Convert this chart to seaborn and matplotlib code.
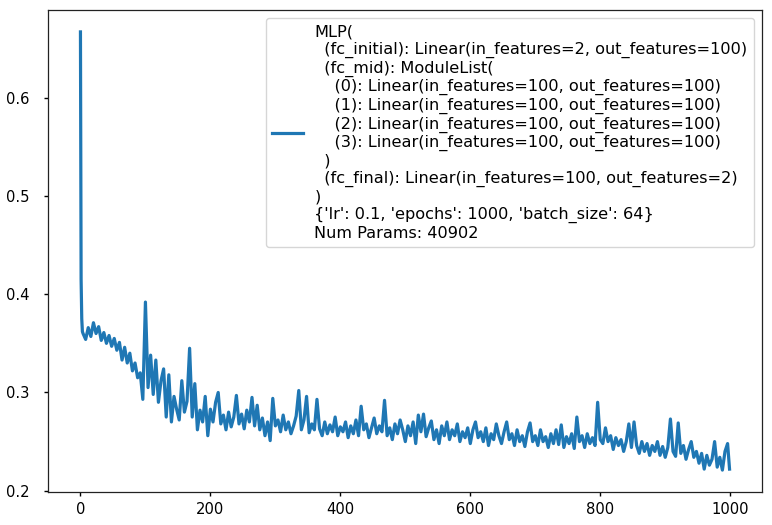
import numpy as np
import pandas as pd
import matplotlib
matplotlib.use("Agg")
import matplotlib.pyplot as plt
import seaborn as sns

# ---- data ----
epochs = [0, 1, 2, 3] + list(range(4, 1000, 4)) + [999]

loss_head = [0.667, 0.415, 0.375, 0.362]
loss_body = [
    # 4-40
    0.360, 0.354, 0.366, 0.357, 0.371, 0.360, 0.367, 0.353, 0.361, 0.350,
    # 44-80
    0.358, 0.347, 0.355, 0.343, 0.351, 0.333, 0.346, 0.330, 0.340, 0.322,
    # 84-120
    0.330, 0.315, 0.320, 0.293, 0.392, 0.305, 0.338, 0.298, 0.333, 0.290,
    # 124-160
    0.312, 0.324, 0.275, 0.318, 0.270, 0.296, 0.283, 0.272, 0.312, 0.280,
    # 164-200
    0.291, 0.345, 0.275, 0.309, 0.262, 0.282, 0.270, 0.296, 0.256, 0.283,
    # 204-240
    0.270, 0.290, 0.300, 0.268, 0.277, 0.262, 0.280, 0.265, 0.275, 0.297,
    # 244-280
    0.268, 0.278, 0.263, 0.282, 0.270, 0.295, 0.266, 0.287, 0.262, 0.274,
    # 284-320
    0.256, 0.270, 0.251, 0.294, 0.266, 0.272, 0.260, 0.277, 0.262, 0.270,
    # 324-360
    0.258, 0.266, 0.276, 0.302, 0.262, 0.272, 0.296, 0.259, 0.268, 0.262,
    # 364-400
    0.293, 0.263, 0.256, 0.270, 0.258, 0.267, 0.260, 0.275, 0.256, 0.265,
    # 404-440
    0.260, 0.270, 0.254, 0.266, 0.258, 0.272, 0.256, 0.286, 0.262, 0.268,
    # 444-480
    0.254, 0.264, 0.274, 0.258, 0.266, 0.260, 0.292, 0.256, 0.264, 0.252,
    # 484-520
    0.268, 0.258, 0.272, 0.262, 0.250, 0.266, 0.256, 0.270, 0.248, 0.277,
    # 524-560
    0.260, 0.278, 0.255, 0.264, 0.271, 0.252, 0.262, 0.248, 0.266, 0.256,
    # 564-600
    0.270, 0.252, 0.262, 0.256, 0.268, 0.250, 0.260, 0.254, 0.264, 0.248,
    # 604-640
    0.262, 0.270, 0.254, 0.260, 0.250, 0.264, 0.246, 0.258, 0.252, 0.268,
    # 644-680
    0.256, 0.248, 0.260, 0.270, 0.252, 0.258, 0.246, 0.262, 0.250, 0.256,
    # 684-720
    0.245, 0.260, 0.269, 0.250, 0.256, 0.246, 0.262, 0.250, 0.255, 0.244,
    # 724-760
    0.258, 0.248, 0.262, 0.247, 0.267, 0.244, 0.255, 0.248, 0.258, 0.243,
    # 764-800
    0.275, 0.250, 0.256, 0.244, 0.258, 0.248, 0.254, 0.246, 0.290, 0.252,
    # 804-840
    0.248, 0.264, 0.250, 0.256, 0.242, 0.254, 0.246, 0.252, 0.240, 0.250,
    # 844-880
    0.268, 0.244, 0.270, 0.246, 0.238, 0.250, 0.240, 0.248, 0.236, 0.246,
    # 884-920
    0.240, 0.250, 0.236, 0.245, 0.234, 0.244, 0.273, 0.240, 0.235, 0.269,
    # 924-960
    0.238, 0.246, 0.232, 0.242, 0.250, 0.234, 0.240, 0.228, 0.238, 0.222,
    # 964-996
    0.236, 0.226, 0.232, 0.250, 0.224, 0.234, 0.221, 0.240, 0.248,
    # 999
    0.222,
]
loss = loss_head + loss_body

x_ticks = [0, 200, 400, 600, 800, 1000]
y_ticks = [0.2, 0.3, 0.4, 0.5, 0.6]
y_tick_labels = ["0.2", "0.3", "0.4", "0.5", "0.6"]

legend_label = (
    "MLP(\n"
    "  (fc_initial): Linear(in_features=2, out_features=100)\n"
    "  (fc_mid): ModuleList(\n"
    "    (0): Linear(in_features=100, out_features=100)\n"
    "    (1): Linear(in_features=100, out_features=100)\n"
    "    (2): Linear(in_features=100, out_features=100)\n"
    "    (3): Linear(in_features=100, out_features=100)\n"
    "  )\n"
    "  (fc_final): Linear(in_features=100, out_features=2)\n"
    ")\n"
    "{'lr': 0.1, 'epochs': 1000, 'batch_size': 64}\n"
    "Num Params: 40902"
)

df = pd.DataFrame({"epoch": epochs[:len(loss)], "loss": loss})

plt.rcParams.update({
    "font.family": ["DejaVu Sans"],
    "legend.fontsize": 11.6,
    "axes.linewidth": 0.9,
    "axes.edgecolor": "#222222",
})

fig = plt.figure(figsize=(7.72, 5.25), dpi=100)
ax = fig.add_axes([48 / 772, 33 / 525, 714 / 772, 482 / 525])

sns.lineplot(data=df, x="epoch", y="loss", ax=ax, color="#1f77b4",
             linewidth=2.3, label=legend_label)

ax.set_xlabel("")
ax.set_ylabel("")
ax.set_xticks(x_ticks)
ax.set_xticklabels([str(t) for t in x_ticks], fontsize=11.8,
                   fontstretch="condensed")
ax.set_yticks(y_ticks)
ax.set_yticklabels(y_tick_labels, fontsize=10.6)
ax.tick_params(axis="x", length=2.6, width=1.0, pad=4.5)
ax.tick_params(axis="y", length=2.6, width=1.0, pad=10.5)
ax.legend(loc="upper right", handlelength=1.9, handletextpad=0.7)

fig.savefig("out.png", dpi=100)
